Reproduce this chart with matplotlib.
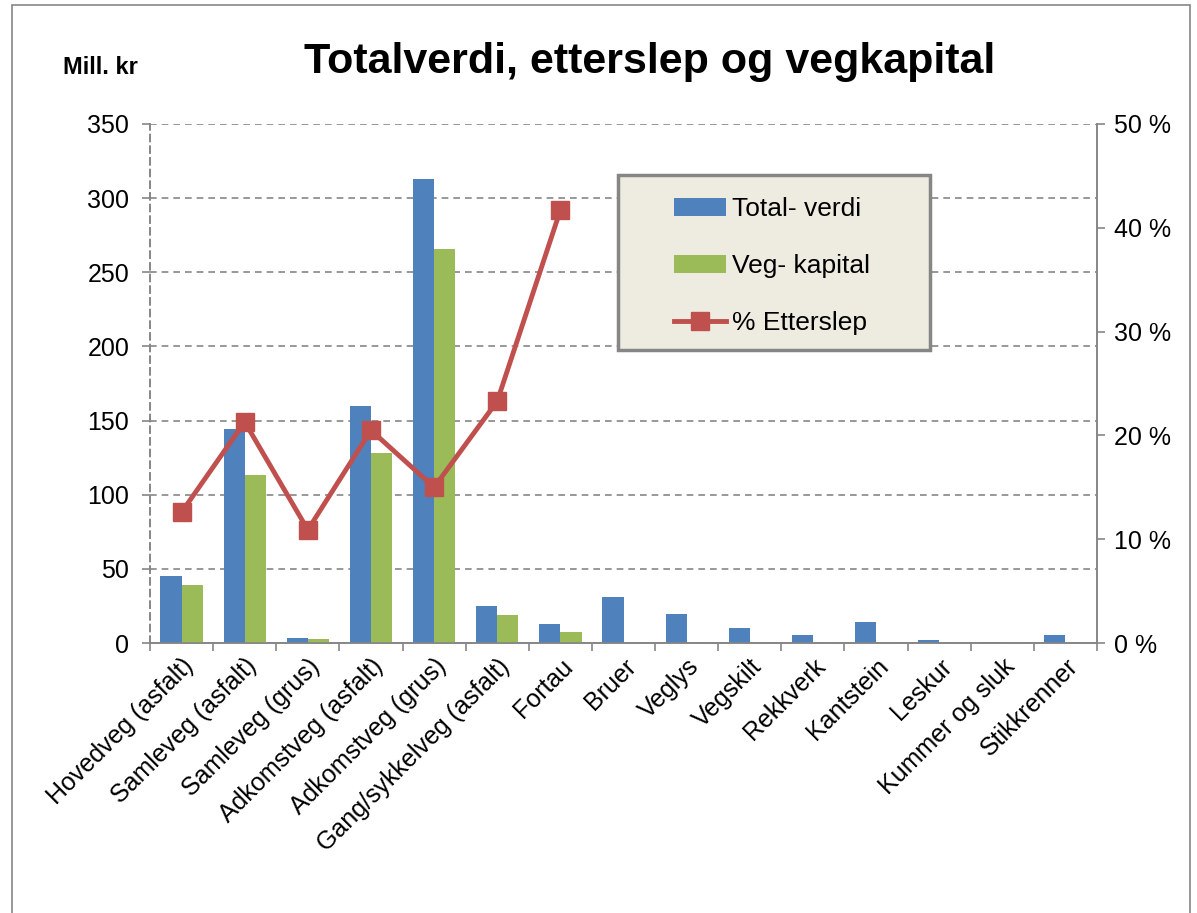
import numpy as np
import matplotlib.pyplot as plt
from matplotlib.patches import Rectangle
from matplotlib.ticker import FuncFormatter

plt.rcParams["font.family"] = ["Liberation Sans", "DejaVu Sans"]

categories = ["Hovedveg (asfalt)", "Samleveg (asfalt)", "Samleveg (grus)",
              "Adkomstveg (asfalt)", "Adkomstveg (grus)", "Gang/sykkelveg (asfalt)",
              "Fortau", "Bruer", "Veglys", "Vegskilt", "Rekkverk", "Kantstein",
              "Leskur", "Kummer og sluk", "Stikkrenner"]
totalverdi = [45.5, 144, 3.4, 160, 313, 25.1, 12.9, 31.2, 19.7, 10.2, 5.4, 14.2, 2.0, 0.7, 5.4]
vegkapital = [39.3, 113, 2.7, 128, 265.5, 19.2, 7.5, 0, 0, 0, 0, 0, 0, 0, 0]
etterslep = [12.6, 21.3, 10.9, 20.5, 15.0, 23.3, 41.7] + [np.nan] * 8

blue = "#4F81BD"
green = "#9BBB59"
red = "#C0504D"
grey = "#868686"

fig = plt.figure(figsize=(11.97, 9.13), dpi=100)
fig.patches.append(Rectangle((0.01, -0.01), 0.984, 1.004, transform=fig.transFigure,
                             fill=False, edgecolor=grey, linewidth=1.2))
ax = fig.add_axes([0.1253, 0.2957, 0.7912, 0.5685])
ax2 = ax.twinx()

x = np.arange(len(categories))
w = 0.335
ax.bar(x - w / 2, totalverdi, w, color=blue, label="Total- verdi", zorder=3)
ax.bar(x + w / 2, vegkapital, w, color=green, label="Veg- kapital", zorder=3)
ax2.plot(x, etterslep, color=red, linewidth=3.5, marker="s", markersize=13,
         label="% Etterslep", zorder=4)

ax.set_xlim(-0.5, len(categories) - 0.5)
ax.set_ylim(0, 350)
ax.set_yticks(range(0, 351, 50))
ax2.set_ylim(0, 50)
ax2.set_yticks(range(0, 51, 10))
ax2.yaxis.set_major_formatter(FuncFormatter(lambda v, p: f"{int(v)} %"))

ax.grid(axis="y", linestyle="--", color=grey, linewidth=1.2, dashes=(4, 3))
ax.set_axisbelow(True)
ax.set_xticks(np.arange(-0.5, len(categories), 1))
ax.set_xticklabels([])
ax.set_xticks(x, minor=True)
ax.set_xticklabels(categories, minor=True, rotation=45, ha="right",
                   rotation_mode="anchor", fontsize=18)
ax.tick_params(axis="x", which="minor", length=0, pad=8)
ax.tick_params(axis="x", which="major", length=6, color=grey, width=1.2)
ax.tick_params(axis="y", labelsize=18, length=6, color=grey, width=1.2, pad=9)
ax2.tick_params(axis="y", labelsize=18, length=6, color=grey, width=1.2, pad=6)

for a in (ax, ax2):
    a.spines["top"].set_visible(False)
    a.spines["bottom"].set_color(grey)
    a.spines["bottom"].set_linewidth(1.2)
    a.spines["left"].set_color(grey)
    a.spines["left"].set_linestyle((0, (4, 3)))
    a.spines["left"].set_linewidth(1.2)
    a.spines["right"].set_color(grey)
    a.spines["right"].set_linewidth(1.2)

fig.text(0.543, 0.932, "Totalverdi, etterslep og vegkapital", ha="center", va="center",
         fontsize=31, fontweight="bold")
fig.text(0.084, 0.926, "Mill. kr", ha="center", va="center", fontsize=17, fontweight="bold")

# legend box drawn separately so padding can differ horizontally/vertically
box = Rectangle((0.494, 0.565), 0.330, 0.337, transform=ax2.transAxes,
                facecolor="#EEECE1", edgecolor=grey, linewidth=2.5, zorder=5)
ax2.add_patch(box)

h1, l1 = ax.get_legend_handles_labels()
h2, l2 = ax2.get_legend_handles_labels()
leg = ax2.legend(h1 + h2, l1 + l2, loc="upper left", bbox_to_anchor=(0.553, 0.859),
                 fontsize=19, frameon=False, labelspacing=1.25,
                 handlelength=2.0, handletextpad=0.2, borderpad=0,
                 borderaxespad=0)
leg.set_zorder(6)

fig.savefig("out.png", dpi=100)
